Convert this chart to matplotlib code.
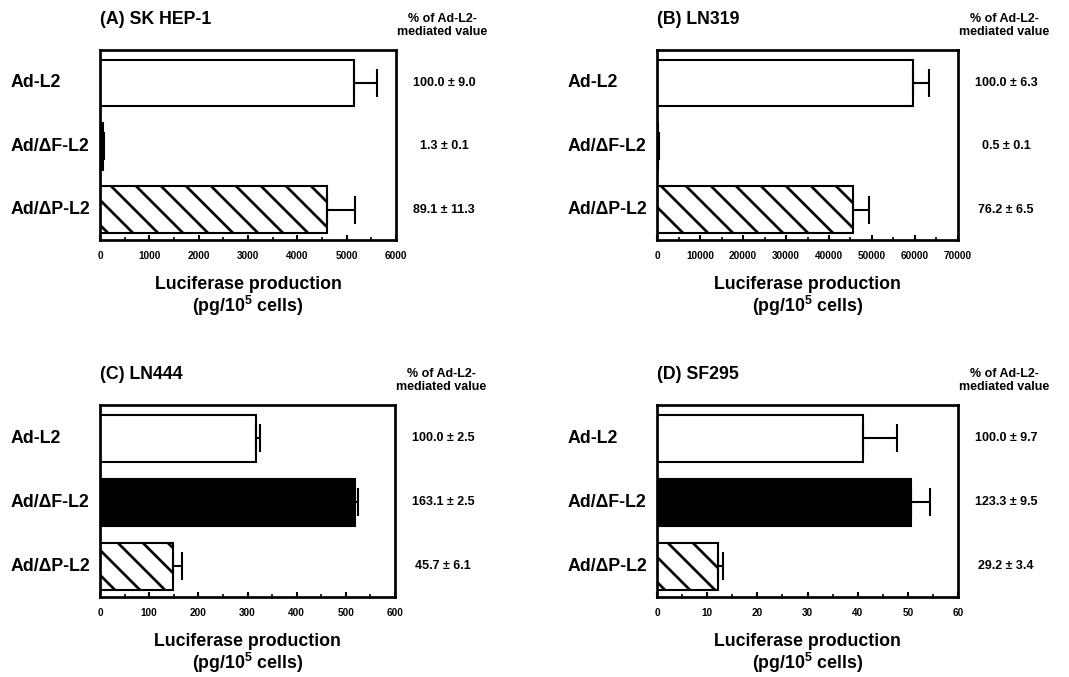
import numpy as np
import matplotlib.pyplot as plt
from matplotlib.ticker import MultipleLocator

plt.rcParams['font.family'] = ['Liberation Sans', 'DejaVu Sans']
plt.rcParams['font.weight'] = 'bold'
plt.rcParams['mathtext.fontset'] = 'custom'
plt.rcParams['mathtext.rm'] = 'Liberation Sans:bold'
plt.rcParams['mathtext.bf'] = 'Liberation Sans:bold'
plt.rcParams['mathtext.default'] = 'bf'
plt.rcParams['hatch.linewidth'] = 1.3

constructs = ['Ad-L2', 'Ad/ΔF-L2', 'Ad/ΔP-L2']
titles = ['(A) SK HEP-1', '(B) LN319', '(C) LN444', '(D) SF295']

sk_hep1 = [5150, 70, 4600]
sk_hep1_err = [470, 10, 560]
sk_hep1_pct = ['100.0 ± 9.0', '1.3 ± 0.1', '89.1 ± 11.3']

ln319 = [59500, 300, 45500]
ln319_err = [3800, 60, 3900]
ln319_pct = ['100.0 ± 6.3', '0.5 ± 0.1', '76.2 ± 6.5']

ln444 = [317, 518, 148]
ln444_err = [8, 7, 18]
ln444_pct = ['100.0 ± 2.5', '163.1 ± 2.5', '45.7 ± 6.1']

sf295 = [41, 50.6, 12.1]
sf295_err = [6.8, 3.8, 1.1]
sf295_pct = ['100.0 ± 9.7', '123.3 ± 9.5', '29.2 ± 3.4']

x_max = [6000, 70000, 600, 60]
x_major = [1000, 10000, 100, 10]

values = [sk_hep1, ln319, ln444, sf295]
errors = [sk_hep1_err, ln319_err, ln444_err, sf295_err]
percents = [sk_hep1_pct, ln319_pct, ln444_pct, sf295_pct]

W, H = 1069, 677
DPI = 150
fig = plt.figure(figsize=(W / DPI, H / DPI), dpi=DPI)

# axes boxes in pixels: left, top, right, bottom
boxes = [(100, 50, 396, 240), (657, 50, 958, 240),
         (100, 405, 395, 597), (657, 405, 958, 597)]

faces = ['white', 'black', 'white']
hatches = ['', '', '\\\\']

for i in range(4):
    l, t, r, b = boxes[i]
    wpx, hpx = r - l, b - t
    ax = fig.add_axes([l / W, 1 - b / H, wpx / W, hpx / H])
    y = np.arange(len(constructs))
    for j in range(len(constructs)):
        ax.barh(y[j], values[i][j], height=0.74, color=faces[j], hatch=hatches[j],
                edgecolor='black', linewidth=1.0, zorder=2)
    ax.errorbar(values[i], y, xerr=[[0, 0, 0], errors[i]], fmt='none',
                ecolor='black', elinewidth=1.0, capsize=6.5, capthick=1.0, zorder=3)
    ax.set_xlim(0, x_max[i])
    ax.set_ylim(2.48, -0.52)
    ax.xaxis.set_major_locator(MultipleLocator(x_major[i]))
    ax.xaxis.set_minor_locator(MultipleLocator(x_major[i] / 2))
    ax.tick_params(axis='x', which='both', direction='in', labelsize=4.8, pad=5.5)
    ax.tick_params(axis='x', which='major', length=2.5, width=1.0)
    ax.tick_params(axis='x', which='minor', length=1.5, width=0.8)
    ax.set_yticks([])
    for s in ax.spines.values():
        s.set_linewidth(1.3)

    ax.set_xlabel('Luciferase production\n(pg/10$^5$ cells)', fontsize=8.5,
                  fontweight='bold', labelpad=7, linespacing=1.05)

    ytr = ax.get_yaxis_transform()
    for j in range(len(constructs)):
        ax.text(-89 / wpx, y[j], constructs[j], transform=ytr, ha='left',
                va='center', fontsize=8.5, fontweight='bold')
        ax.text(1 + 48 / wpx, y[j], percents[i][j], transform=ytr, ha='center',
                va='center', fontsize=6, fontweight='bold')

    ax.text(0, 1 + 22 / hpx, titles[i], transform=ax.transAxes, ha='left',
            va='bottom', fontsize=8.5, fontweight='bold')
    ax.text(1 + 46 / wpx, 1 + 12 / hpx, '% of Ad-L2-\nmediated value',
            transform=ax.transAxes, ha='center', va='bottom', fontsize=6,
            fontweight='bold', linespacing=1.1)

fig.savefig('out.png', dpi=DPI)
